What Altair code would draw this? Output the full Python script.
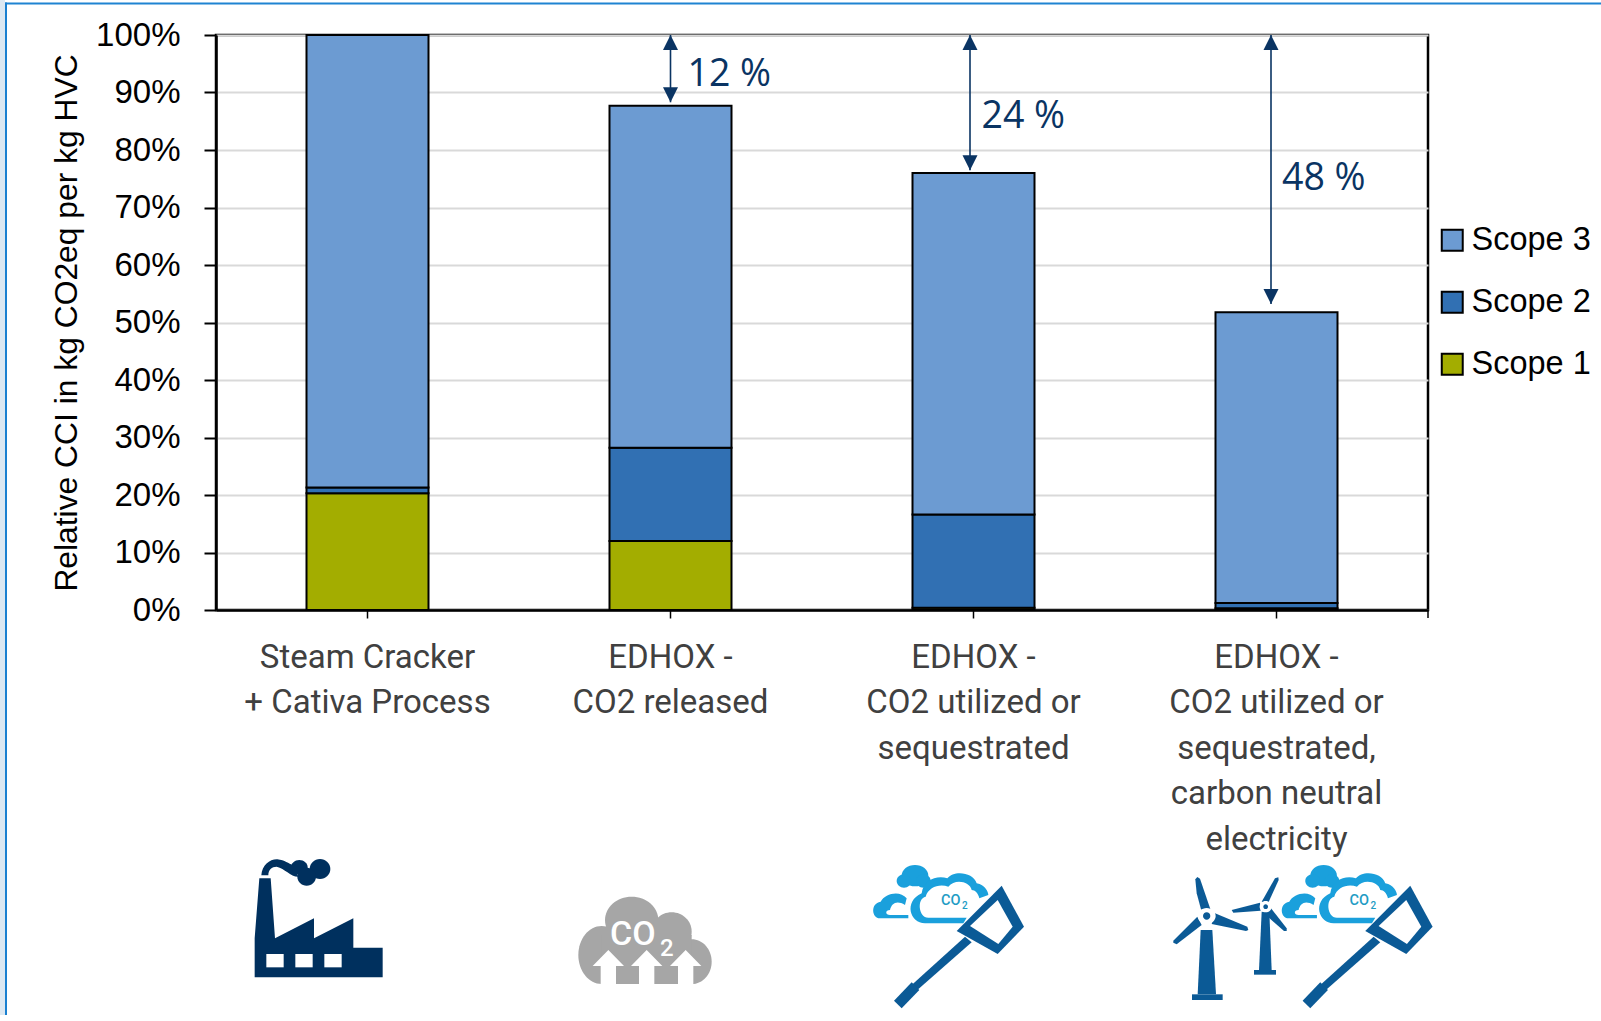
import re

import altair as alt
import pandas as pd

# Stacked shares per process route, in percent of the reference route
categories = [
    "Steam Cracker|+ Cativa Process",
    "EDHOX -|CO2 released",
    "EDHOX -|CO2 utilized or|sequestrated",
    "EDHOX -|CO2 utilized or|sequestrated,|carbon neutral|electricity",
]
scope_1 = [20.3, 12.0, 0.4, 0.3]
scope_2 = [1.0, 16.2, 16.2, 0.9]
scope_3 = [78.7, 59.5, 59.4, 50.6]

# Savings arrows: route index, label, lower arrow end, label height
saving_routes = [1, 2, 3]
saving_labels = ["12 %", "24 %", "48 %"]
saving_ends = [88.3, 76.5, 53.2]
saving_label_heights = [91.2, 83.8, 73.0]

scope_names = ["Scope 3", "Scope 2", "Scope 1"]
scope_colors = ["#6C9BD2", "#3170B3", "#A3AD00"]

NAVY = "#0A3463"
LEFT, TOP, W, H = 216, 35, 1212, 575

rows = []
for i, cat in enumerate(categories):
    for rank, (name, vals) in enumerate(
        [("Scope 1", scope_1), ("Scope 2", scope_2), ("Scope 3", scope_3)]
    ):
        rows.append({"cat": cat, "scope": name, "share": vals[i], "rank": rank})
bars_df = pd.DataFrame(rows)

x_scale = alt.Scale(domain=categories, paddingInner=0, paddingOuter=0)
x_enc = alt.X(
    "cat:N",
    scale=x_scale,
    title=None,
    axis=alt.Axis(
        labelExpr="split(datum.label, '|')",
        labelAngle=0,
        labelFont="Roboto",
        labelFontSize=33,
        labelColor="#404040",
        labelLineHeight=45.5,
        labelPadding=23,
        labelLimit=400,
        tickSize=8,
        tickWidth=1.5,
        tickColor="#000000",
        domainColor="#000000",
        domainWidth=2.5,
        grid=False,
    ),
)

bars = (
    alt.Chart(bars_df)
    .mark_bar(width=122, stroke="#000000", strokeWidth=2)
    .encode(
        x=x_enc,
        y=alt.Y(
            "share:Q",
            stack="zero",
            scale=alt.Scale(domain=[0, 100], nice=False),
            title="Relative CCI in kg CO2eq per kg HVC",
            axis=alt.Axis(
                values=list(range(0, 101, 10)),
                labelExpr="datum.value + '%'",
                labelFont="Liberation Sans",
                labelFontSize=33,
                labelColor="#000000",
                labelPadding=24,
                tickSize=12,
                tickWidth=2,
                tickColor="#000000",
                domainColor="#000000",
                domainWidth=2.5,
                gridColor="#D9D9D9",
                gridWidth=2,
                titleFont="Liberation Sans",
                titleFontSize=31.8,
                titleFontWeight="normal",
                titleColor="#000000",
                titlePadding=12,
            ),
        ),
        order=alt.Order("rank:Q"),
        fill=alt.Fill(
            "scope:N",
            scale=alt.Scale(domain=scope_names, range=scope_colors),
            legend=alt.Legend(
                title=None,
                orient="none",
                legendX=1220,
                legendY=189,
                symbolType="square",
                symbolSize=440,
                symbolStrokeWidth=2,
                symbolStrokeColor="#000000",
                labelFont="Liberation Sans",
                labelFontSize=32.5,
                labelColor="#000000",
                labelOffset=3,
                rowPadding=29,
            ),
        ),
    )
)

# Double-headed arrows from the reference level down to each reduced bar
arrow_layers = []
arrow_shifts = [0, -3.5, -5.5]
label_shifts = [17, 8, 5.5]
for route, text, end, lift, shift, lshift in zip(
    saving_routes, saving_labels, saving_ends, saving_label_heights, arrow_shifts, label_shifts
):
    one = pd.DataFrame(
        [{"cat": categories[route], "top": 100.0, "end": end, "label": text, "lift": lift}]
    )
    base = alt.Chart(one)
    arrow_layers += [
        base.mark_rule(color=NAVY, strokeWidth=1.6, xOffset=shift).encode(
            x=alt.X("cat:N", scale=x_scale), y=alt.Y("top:Q"), y2="end:Q"
        ),
        base.mark_point(
            shape="M0,0L-7.5,15L7.5,15Z", size=4, filled=True, color=NAVY, opacity=1, xOffset=shift
        ).encode(x=alt.X("cat:N", scale=x_scale), y=alt.Y("top:Q")),
        base.mark_point(
            shape="M0,0L-7.5,-15L7.5,-15Z", size=4, filled=True, color=NAVY, opacity=1, xOffset=shift
        ).encode(x=alt.X("cat:N", scale=x_scale), y=alt.Y("end:Q")),
        base.mark_text(
            align="left", baseline="alphabetic", font="Open Sans", fontSize=37.5, color=NAVY, xOffset=lshift
        ).encode(x=alt.X("cat:N", scale=x_scale), y=alt.Y("lift:Q"), text="label:N"),
    ]

# Closing tick at the right end of the category axis
end_tick = alt.Chart(pd.DataFrame({"k": [0]})).mark_rule(color="#000000", strokeWidth=1.5).encode(
    x=alt.value(W), y=alt.value(H), y2=alt.value(H + 8)
)


def loc(path, ox, oy, factor=3.0):
    """Place an icon outline drawn on a local grid at its spot on the page."""
    return re.sub(
        r"(-?[\d.]+),(-?[\d.]+)",
        lambda m: f"{ox + float(m[1]) / factor:.2f},{oy + float(m[2]) / factor:.2f}",
        path,
    )


def blob(cx, cy, rx, ry):
    return (
        f"M{cx - rx},{cy}A{rx},{ry} 0 1 0 {cx + rx},{cy}"
        f"A{rx},{ry} 0 1 0 {cx - rx},{cy}Z"
    )


def box(x0, y0, x1, y1):
    return f"M{x0},{y0}L{x1},{y0}L{x1},{y1}L{x0},{y1}Z"


def ell(cx, cy, rx, ry, ox, oy, factor=3.0):
    return blob(ox + cx / factor, oy + cy / factor, rx / factor, ry / factor)


BLUE = "#0B5A96"
SKY = "#1AA0DC"
GREY = "#A6A6A6"
NAVY_ICON = "#00305E"
WHITE = "#FFFFFF"


def pump_icon(dx):
    ox, oy = 860 + dx, 855
    return [
        (ell(165, 62, 40, 32, ox, oy), SKY),
        (ell(132, 78, 22, 20, ox, oy), SKY),
        (ell(190, 78, 22, 20, ox, oy), SKY),
        (loc("M145,190L60,190C35,190 30,145 62,140C75,115 120,105 140,130L135,150"
             "C110,135 95,145 90,165C75,165 75,180 90,180L145,180Z", ox, oy), SKY),
        (loc("M310,205L195,205C150,205 130,140 185,115C190,75 230,60 262,70"
             "C280,45 340,50 350,85C375,90 385,110 385,120L358,130C355,115 345,105 335,105"
             "C330,80 285,70 265,95C240,85 205,95 197,125C170,130 175,188 205,188L320,188Z", ox, oy), SKY),
        # Net frame, handle and grip
        (loc("M425,92L492,215L413,297L290,228Z", ox, oy), BLUE),
        (loc("M413,135L458,215L415,267L330,213Z", ox, oy), WHITE),
        (loc("M315,245L335,262L172,405L155,390Z", ox, oy), BLUE),
        (loc("M155,382L178,405L125,460L102,437Z", ox, oy), BLUE),
    ]


# Outlines of the large and the small wind turbine on a local grid
TURBINE_LOCAL = [
    "M122,210L157,210L168,403L113,403Z",
    "M96,403L188,403L188,420L96,420Z",
    "M106,58L112,51L120,56L152,150L125,155L110,100Z",
    "M165,160L262,200L265,210L258,213L155,192Z",
    "M112,170L125,195L50,253L40,248L40,242Z",
    "M305,155L328,155L335,330L297,330Z",
    "M282,330L348,330L348,344L282,344Z",
    "M345,55L355,52L356,60L325,128L305,125Z",
    "M215,150L300,128L302,152L220,158Z",
    "M333,145L380,205L380,213L372,213L312,160Z",
]

icons = [
    # Blue page frame
    (box(0, 0, 5, 1021), "#DCE8F2"),
    (box(5, 2.5, 1601, 4.5), "#1F84D2"),
    (box(5, 2.5, 7, 1021), "#1A80D0"),
    # Factory
    (loc("M58,85L92,85L105,265L222,205L222,265L340,205L340,293L428,293L428,382L44,382L44,265Z", 240, 850), NAVY_ICON),
    (loc("M79,312L131,312L131,352L79,352Z", 240, 850), WHITE),
    (loc("M166,312L218,312L218,352L166,352Z", 240, 850), WHITE),
    (loc("M253,312L305,312L305,352L253,352Z", 240, 850), WHITE),
    (loc("M64,76C66,45 90,27 112,28C135,30 145,42 160,45L175,80C150,80 135,55 110,50"
         "C95,50 85,60 85,76Z", 240, 850), NAVY_ICON),
    (ell(178, 52, 25, 22, 240, 850), NAVY_ICON),
    (ell(240, 57, 31, 30, 240, 850), NAVY_ICON),
    (ell(200, 80, 28, 27, 240, 850), NAVY_ICON),
    # Grey emissions cloud
    (ell(200, 105, 80, 70, 565, 885), GREY),
    (ell(320, 140, 60, 58, 565, 885), GREY),
    (ell(110, 210, 70, 87, 565, 885), GREY),
    (ell(380, 230, 60, 67, 565, 885), GREY),
    (loc("M110,150L380,150L380,297L110,297Z", 565, 885), GREY),
] + [
    (loc(f"M{x},195L{x + 47},243L{x + 23},243L{x + 23},297L{x - 23},297L{x - 23},243L{x - 47},243Z", 565, 885), WHITE)
    for x in (130, 245, 362)
] + pump_icon(0) + pump_icon(408.6) + [
    (loc(p, 1160, 860), BLUE) for p in TURBINE_LOCAL
] + [
    (ell(140, 168, 27, 24, 1160, 860), WHITE),
    (ell(140, 168, 11, 11, 1160, 860), BLUE),
    (ell(317, 140, 18, 17, 1160, 860), WHITE),
    (ell(317, 140, 7, 7, 1160, 860), BLUE),
]
icons_df = pd.DataFrame(icons, columns=["path", "tone"])

icon_layer = alt.Chart(icons_df).mark_point(filled=True, opacity=1, strokeWidth=0, clip=False).encode(
    x=alt.value(-LEFT),
    y=alt.value(-TOP),
    shape=alt.Shape("path:N", scale=None, legend=None),
    fill=alt.Fill("tone:N", scale=None, legend=None),
    size=alt.value(4),
)


def icon_text(text, px, py, size, color, weight=500):
    return alt.Chart(pd.DataFrame({"t": [text]})).mark_text(
        align="left", baseline="alphabetic", font="Roboto", fontSize=size, fontWeight=weight, color=color
    ).encode(x=alt.value(px - LEFT), y=alt.value(py - TOP), text="t:N")


TEAL = "#1E9CC4"
icon_labels = [
    icon_text("CO", 610, 945, 34, WHITE),
    icon_text("2", 660, 955.7, 24, WHITE),
    icon_text("CO", 941, 905, 14.5, TEAL),
    icon_text("2", 962, 909, 10, TEAL),
    icon_text("CO", 1349.6, 905, 14.5, TEAL),
    icon_text("2", 1370.6, 909, 10, TEAL),
]

chart = (
    alt.layer(bars, *arrow_layers, end_tick, icon_layer, *icon_labels)
    .resolve_scale(shape="independent", fill="independent")
    .properties(
        width=W,
        height=H,
        padding={"left": LEFT, "top": TOP, "right": 173, "bottom": 405},
        autosize=alt.AutoSizeParams(type="none"),
        background="#FFFFFF",
    )
    .configure_view(stroke="#000000", strokeWidth=2.5)
)

chart.save("out.html", embed_options={"renderer": "svg", "actions": False})
